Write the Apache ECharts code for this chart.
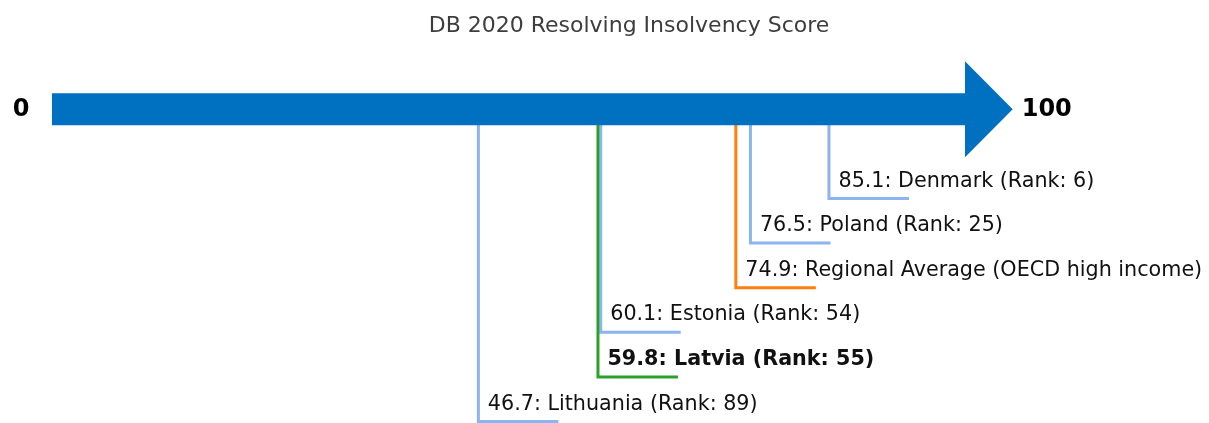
<!DOCTYPE html>
<html>
<head>
<meta charset="utf-8">
<script src="https://cdn.jsdelivr.net/npm/echarts@6/dist/echarts.min.js"></script>
<style>
  html, body { margin: 0; padding: 0; background: #ffffff; }
  #chart { width: 1209px; height: 423px; }
</style>
</head>
<body>
<div id="chart"></div>
<script>
// Resolving insolvency scores (0-100) for Latvia and comparators
const names = ['Denmark', 'Poland', 'Regional Average (OECD high income)', 'Estonia', 'Latvia', 'Lithuania'];
const scores = [85.1, 76.5, 74.9, 60.1, 59.8, 46.7];
const ranks = [6, 25, null, 54, 55, 89];
const kinds = ['peer', 'peer', 'region', 'peer', 'focus', 'peer'];
const scaleEnds = [0, 100];
const titleText = 'DB 2020 Resolving Insolvency Score';

const FONT = '"DejaVu Sans", "Liberation Sans", sans-serif';
const kindColor = { peer: '#8cb4ee', region: '#ff7f0e', focus: '#2ca02c' };

// each callout sits on its own row below the arrow, in list order
const rows = scores.map((s, i) => ({
  value: [s, i + 2],
  text: s.toFixed(1) + ': ' + names[i] + (ranks[i] != null ? ' (Rank: ' + ranks[i] + ')' : ''),
  kind: kinds[i]
}));

const chart = echarts.init(document.getElementById('chart'), null, { renderer: 'canvas' });

chart.setOption({
  animation: false,
  grid: { left: 52, right: 244, top: 20.1, bottom: 1.5 },
  xAxis: { type: 'value', min: scaleEnds[0], max: scaleEnds[1], show: false },
  yAxis: { type: 'value', min: -2, max: 7, inverse: true, show: false },
  graphic: [{
    type: 'text', x: 629, y: 26,
    style: {
      text: titleText, fill: '#3d3d3d', font: '22px ' + FONT,
      textAlign: 'center', textVerticalAlign: 'middle'
    }
  }],
  series: [
    {
      // callout leaders and their labels
      type: 'custom',
      coordinateSystem: 'cartesian2d',
      clip: false,
      z: 1,
      data: rows,
      renderItem: function (params, api) {
        const r = rows[params.dataIndex];
        const top = api.coord([api.value(0), 0]);
        const bot = api.coord([api.value(0), api.value(1)]);
        const color = kindColor[r.kind];
        return {
          type: 'group',
          children: [
            {
              type: 'polyline',
              shape: { points: [[top[0], top[1]], [bot[0], bot[1]], [bot[0] + 80, bot[1]]] },
              style: { stroke: color, lineWidth: 3, fill: null }
            },
            {
              type: 'text',
              x: bot[0] + 9.5, y: bot[1] - 17.3,
              style: {
                text: r.text,
                fill: '#111111',
                font: (r.kind === 'focus' ? 'bold ' : '') + '20.7px ' + FONT,
                textAlign: 'left', textVerticalAlign: 'middle'
              }
            }
          ]
        };
      }
    },
    {
      // the 0-100 scale arrow with its end labels
      type: 'custom',
      coordinateSystem: 'cartesian2d',
      clip: false,
      z: 5,
      data: [[scaleEnds[0], scaleEnds[1]]],
      renderItem: function (params, api) {
        const a = api.coord([api.value(0), 0]);
        const b = api.coord([api.value(1), 0]);
        const y = a[1];
        const shaft = 16, head = 48, headLen = 47.7;
        return {
          type: 'group',
          children: [
            {
              type: 'polygon',
              shape: {
                points: [
                  [a[0], y - shaft], [b[0], y - shaft], [b[0], y - head],
                  [b[0] + headLen, y], [b[0], y + head], [b[0], y + shaft], [a[0], y + shaft]
                ]
              },
              style: { fill: '#0070c0' }
            },
            {
              type: 'text', x: a[0] - 31, y: y,
              style: {
                text: String(scaleEnds[0]), fill: '#000000', font: 'bold 24px ' + FONT,
                textAlign: 'center', textVerticalAlign: 'middle'
              }
            },
            {
              type: 'text', x: b[0] + headLen + 9, y: y,
              style: {
                text: String(scaleEnds[1]), fill: '#000000', font: 'bold 24px ' + FONT,
                textAlign: 'left', textVerticalAlign: 'middle'
              }
            }
          ]
        };
      }
    }
  ]
});
</script>
</body>
</html>
